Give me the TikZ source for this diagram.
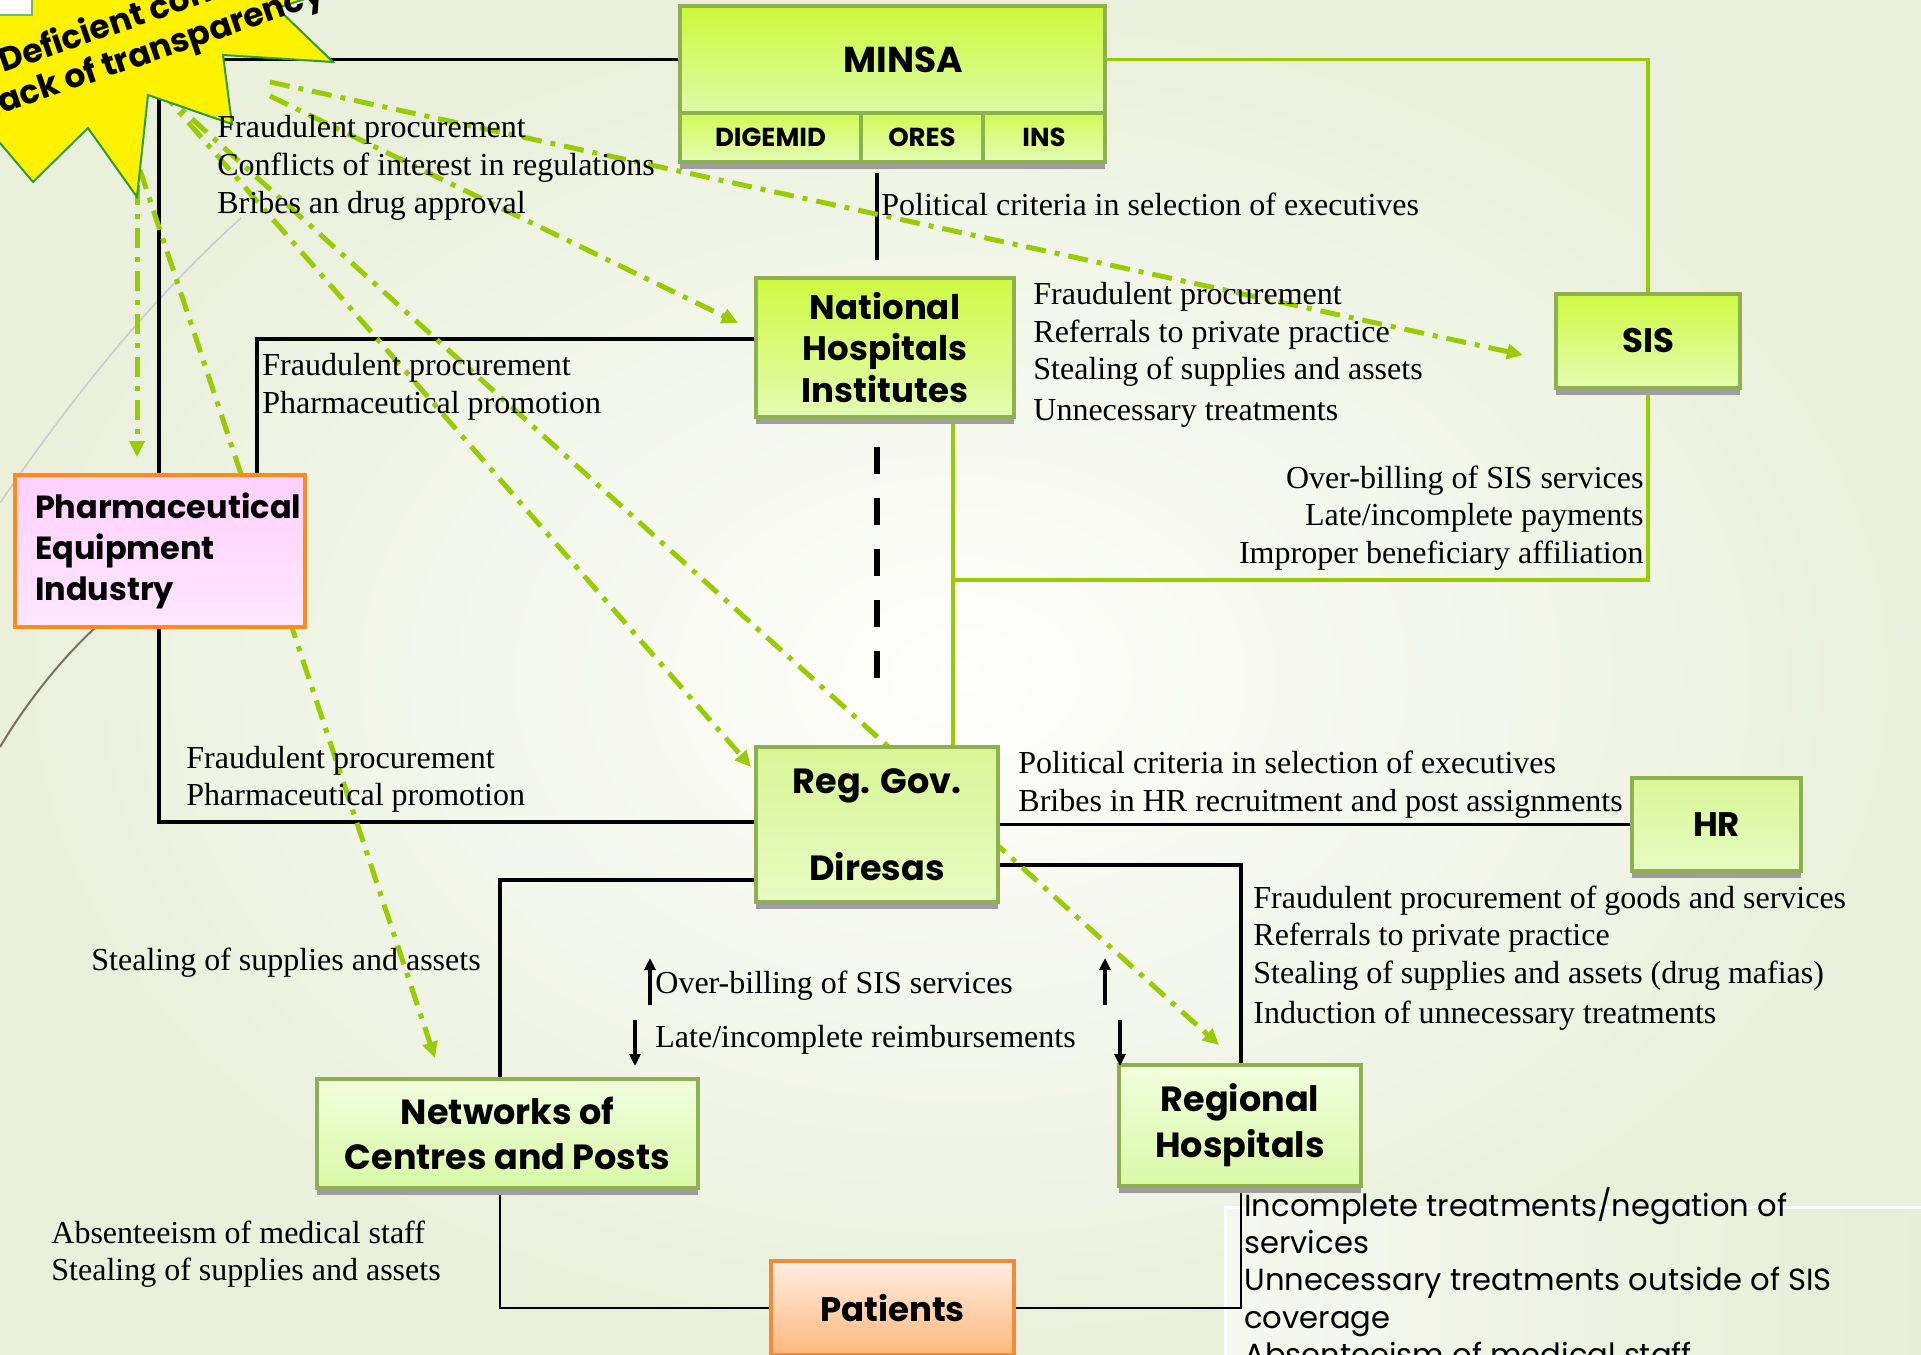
\documentclass[tikz,border=0pt]{standalone}
\usepackage{fontspec}
\setmainfont{Liberation Serif}
\newfontfamily\gothic{Poppins}
\usetikzlibrary{arrows.meta,calc,shadows}
\pgfdeclarelayer{bg}
\pgfdeclarelayer{lines}
\pgfsetlayers{bg,lines,main}
\definecolor{lime}{HTML}{99CC00}
\definecolor{boxborder}{HTML}{8FB050}
\definecolor{minsatop}{HTML}{CCFA3A}
\definecolor{minsabot}{HTML}{DDFAA8}
\definecolor{subtop}{HTML}{D2FB55}
\definecolor{subbot}{HTML}{E3FCB6}
\definecolor{limetop}{HTML}{CEFA42}
\definecolor{limebot}{HTML}{E2FCB2}
\definecolor{midtop}{HTML}{D8F696}
\definecolor{midbot}{HTML}{E6FCC2}
\definecolor{paletop}{HTML}{F0FFDE}
\definecolor{palebot}{HTML}{D9F9A6}
\definecolor{pharmtop}{HTML}{FFD0FF}
\definecolor{pharmbot}{HTML}{FFE6FF}
\definecolor{pharmborder}{HTML}{FF8C1A}
\definecolor{pattop}{HTML}{FFEEE2}
\definecolor{patbot}{HTML}{FFB77A}
\definecolor{patborder}{HTML}{F28A3A}
\definecolor{bgin}{HTML}{FEFEFC}
\definecolor{bgout}{HTML}{EAF0DC}
\definecolor{starline}{HTML}{339933}
\definecolor{boxin}{HTML}{F6F8EF}
\definecolor{boxout}{HTML}{E7EDD6}
\begin{document}
\begin{tikzpicture}[x=0.5pt,y=-0.5pt,
  gbox/.style={draw=boxborder, line width=2pt, inner sep=0pt, align=center,
     drop shadow={shadow xshift=0pt,shadow yshift=-3.5pt,fill=black!38,opacity=1},
     font=\gothic\bfseries\fontsize{17pt}{21pt}\selectfont},
  gA/.style={gbox, top color=limetop, bottom color=limebot},
  gB/.style={gbox, top color=midtop, bottom color=midbot},
  gC/.style={gbox, top color=paletop, bottom color=palebot},
  gsub/.style={gbox, top color=subtop, bottom color=subbot, minimum height=24.5pt,
     font=\gothic\bfseries\fontsize{13pt}{15pt}\selectfont},
  txt/.style={inner sep=0pt, anchor=base west, font=\fontsize{16pt}{18.7pt}\selectfont},
  txtr/.style={txt, anchor=base east},
  gtxt/.style={inner sep=0pt, anchor=base west, font=\gothic\fontsize{15.3pt}{18.7pt}\selectfont},
  startxt/.style={inner sep=0pt, anchor=base west, rotate=19, font=\gothic\bfseries\fontsize{16.5pt}{18pt}\selectfont},
  blk/.style={draw=black, line width=1.6pt},
  blkthin/.style={draw=black, line width=1.2pt},
  grn/.style={draw=lime, line width=1.6pt},
  dd/.style={draw=lime, line width=2.5pt, dash pattern=on 10pt off 4.5pt on 2.5pt off 4.5pt,
     -{Triangle[length=8pt,width=7.5pt]}},
  sarrow/.style={draw=black, line width=1.8pt, -{Triangle[length=6pt,width=5.5pt]}},
]
\useasboundingbox (0,0) rectangle (1921,1354);

% ---------- background ----------
\begin{pgfonlayer}{bg}
\shade[inner color=bgin, outer color=bgout] (0,0) rectangle (1921,1354);
\draw[color=black!20, line width=0.8pt] (0,503) .. controls (70,400) and (150,300) .. (241,218);
\draw[color={rgb,255:red,120;green,112;blue,96}, line width=1pt] (0,747) .. controls (25,705) and (60,660) .. (96,627);
\draw[draw=white, line width=1.5pt, left color=boxin, right color=boxout] (1225,1207) rectangle (1940,1380);
\end{pgfonlayer}

% ---------- boxes ----------
\node[gbox, top color=minsatop, bottom color=minsabot, minimum width=212.5pt, minimum height=53.5pt,
      font=\gothic\bfseries\fontsize{18pt}{21pt}\selectfont] (minsa) at (892.5,59.5) {\hspace*{11pt}MINSA};
\node[gsub, minimum width=90.5pt] (digemid) at (770.5,137.5) {DIGEMID};
\node[gsub, minimum width=61pt] (ores) at (922,137.5) {ORES};
\node[gsub, minimum width=61pt] (ins) at (1044,137.5) {INS};

\node[gA, minimum width=129pt, minimum height=69.5pt,
      font=\gothic\bfseries\fontsize{17pt}{20.8pt}\selectfont] (nhi) at (885,347.5) {National\\Hospitals\\Institutes};
\node[gA, minimum width=92pt, minimum height=47pt] (sis) at (1648,341) {SIS};

\node[draw=pharmborder, line width=2pt, top color=pharmtop, bottom color=pharmbot,
      minimum height=76pt, text width=124.5pt, inner xsep=10.25pt, inner ysep=0pt, align=left,
      font=\gothic\bfseries\fontsize{16pt}{20.5pt}\selectfont]
      (pharma) at (159.5,551) {\mbox{Pharmaceutical}\\Equipment\\Industry};

\node[gB, minimum width=121pt, minimum height=77.5pt,
      font=\gothic\bfseries\fontsize{17.5pt}{21.75pt}\selectfont] (reggov) at (877,824.5) {Reg. Gov.\\\mbox{}\\Diresas};
\node[gB, minimum width=84.5pt, minimum height=46.5pt] (hr) at (1716.5,824.5) {HR};

\node[gC, minimum width=190.5pt, minimum height=54.5pt,
      font=\gothic\bfseries\fontsize{17.5pt}{22.5pt}\selectfont] (networks) at (507.5,1133.5) {Networks of\\Centres and Posts};
\node[gC, minimum width=121pt, minimum height=60.5pt,
      font=\gothic\bfseries\fontsize{17.5pt}{23pt}\selectfont] (regional) at (1240,1125.5) {Regional\\Hospitals};

\node[draw=patborder, line width=2pt, top color=pattop, bottom color=patbot, inner sep=0pt,
      minimum width=121.5pt, minimum height=47pt,
      font=\gothic\bfseries\fontsize{17pt}{21pt}\selectfont] (patients) at (892.5,1308) {Patients};

% ---------- connectors ----------
\coordinate (c1) at (257,339);
\coordinate (c2) at (500,880);
\coordinate (c3) at (1241,865);
\coordinate (c4) at (159,822);
\coordinate (gj) at (953,580);
\begin{pgfonlayer}{lines}
\draw[blk] (minsa.west) -| (c4) -- (c4 -| reggov.west);
\draw[blk] (nhi.west |- c1) -| (c1 |- pharma.north);
\draw[blk] (reggov.west |- c2) -| (c2 |- networks.north);
\draw[blkthin] (c2 |- networks.south) |- (patients.west);
\draw[blk] (reggov.east) -- (hr.west);
\draw[blk] (reggov.east |- c3) -| (c3 |- regional.north);
\draw[blkthin] (c3 |- regional.south) |- (patients.east);
\draw[grn] (minsa.east) -| (sis.north);
\draw[grn] (sis.south) |- (gj);
\draw[grn] (gj |- nhi.south) -- (gj |- reggov.north);
\draw[blk] ($(nhi.north)+(-8,-16)$) -- ($(nhi.north)+(-8,-103)$);
\draw[draw=black, line width=3pt, dash pattern=on 13.5pt off 12pt] ($(nhi.south)+(-8,28)$) -- ($(reggov.north)+(0,-43)$);

% green dash-dot arrows from the star
\coordinate (sa) at (137,185);
\coordinate (sb) at (140,170);
\coordinate (sc) at (160,90);
\coordinate (sd) at (270,82);
\coordinate (se) at (270,96);
\coordinate (ta) at ($(pharma.north)+(-22.5,-16)$);
\coordinate (tb) at ($(networks.north west)+(120,-19)$);
\coordinate (tc) at ($(nhi.west)+(-16,-24.5)$);
\coordinate (td) at ($(sis.west)+(-31,14)$);
\coordinate (te) at ($(reggov.north west)+(-3,22)$);
\coordinate (tf) at ($(regional.north west)+(102,-18)$);
\draw[dd] (sa) -- (ta);
\draw[dd] (sb) -- (tb);
\draw[dd] (se) -- (tc);
\draw[dd] (sd) -- (td);
\draw[dd] (sc) -- (te);
\draw[dd] (sc) -- (tf);
\end{pgfonlayer}

% ---------- star ----------
\filldraw[fill=yellow, draw=starline, line width=1pt]
  (-40,-40) -- (345,-40) -- (345,-14) -- (277,8) -- (333,62) -- (223,55) -- (232,124)
  -- (148,95) -- (137,197) -- (88,128) -- (33,182) -- (0,143) -- (-40,160) -- cycle;
\node[startxt] (star1) at (3,73) {Deficient control and};
\node[startxt] (star2) at (-7,117) {lack of transparency};
\filldraw[fill=white, draw=starline!70, line width=0.6pt] (-5,-5) rectangle (32,15);

% ---------- labels ----------
\node[txt] (t1a) at (217,138) {Fraudulent procurement};
\node[txt] (t1b) at (217,176) {Conflicts of interest in regulations};
\node[txt] (t1c) at (217,213) {Bribes an drug approval};

\node[txt] (t2) at (881,215) {Political criteria in selection of executives};

\node[txt] (t3a) at (1033,304) {Fraudulent procurement};
\node[txt] (t3b) at (1033,342) {Referrals to private practice};
\node[txt] (t3c) at (1033,379) {Stealing of supplies and assets};
\node[txt] (t3d) at (1033,420) {Unnecessary treatments};

\node[txtr] (t4a) at (1644,488) {Over-billing of SIS services};
\node[txtr] (t4b) at (1644,525) {Late/incomplete payments};
\node[txtr] (t4c) at (1644,563) {Improper beneficiary affiliation};

\node[txt] (t5a) at (262,375) {Fraudulent procurement};
\node[txt] (t5b) at (262,413) {Pharmaceutical promotion};

\node[txt] (t6a) at (186,768) {Fraudulent procurement};
\node[txt] (t6b) at (186,805) {Pharmaceutical promotion};

\node[txt] (t7) at (91,970) {Stealing of supplies and assets};

\node[txt] (t8a) at (655,993) {Over-billing of SIS services};
\node[txt] (t8b) at (655,1047) {Late/incomplete reimbursements};

\node[txt] (t9a) at (1018,773) {Political criteria in selection of executives};
\node[txt] (t9b) at (1018,811) {Bribes in HR recruitment and post assignments};

\node[txt] (t10a) at (1253,908) {Fraudulent procurement of goods and services};
\node[txt] (t10b) at (1253,945) {Referrals to private practice};
\node[txt] (t10c) at (1253,983) {Stealing of supplies and assets (drug mafias)};
\node[txt] (t10d) at (1253,1023) {Induction of unnecessary treatments};

\node[txt] (t11a) at (51,1243) {Absenteeism of medical staff};
\node[txt] (t11b) at (51,1280) {Stealing of supplies and assets};

\node[gtxt] (t12a) at (1244,1216) {Incomplete treatments/negation of};
\node[gtxt] (t12b) at (1244,1253) {services};
\node[gtxt] (t12c) at (1244,1290) {Unnecessary treatments outside of SIS};
\node[gtxt] (t12d) at (1244,1328) {coverage};
\node[gtxt] (t12e) at (1244,1365) {Absenteeism of medical staff};

% ---------- small flow arrows ----------
\coordinate (u1a) at (650,1005); \coordinate (u1b) at (650,958);
\coordinate (d1a) at (635,1020); \coordinate (d1b) at (635,1066);
\coordinate (u2a) at (1105,1005); \coordinate (u2b) at (1105,958);
\coordinate (d2a) at (1120,1020); \coordinate (d2b) at (1120,1066);
\draw[sarrow] (u1a) -- (u1b);
\draw[sarrow] (d1a) -- (d1b);
\draw[sarrow] (u2a) -- (u2b);
\draw[sarrow] (d2a) -- (d2b);
\end{tikzpicture}
\end{document}
